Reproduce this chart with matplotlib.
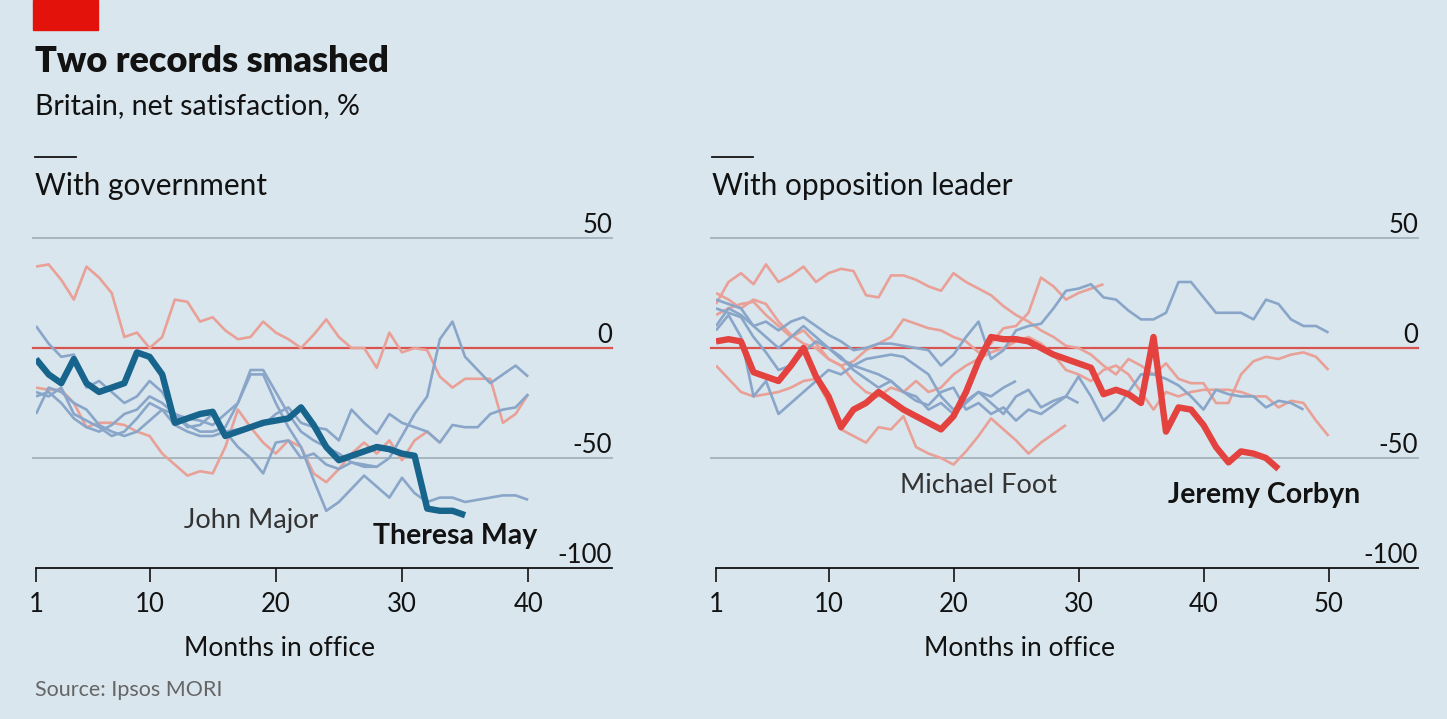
import matplotlib
matplotlib.use("Agg")
import matplotlib.pyplot as plt
import matplotlib.transforms as mtransforms
import numpy as np

plt.rcParams['font.family'] = ['Lato', 'DejaVu Sans']

# ---------------- data ----------------
# Left panel: net satisfaction with government, by months in office
may = [-5, -12, -16, -5, -16, -20, -18, -16, -2, -4, -12, -34, -32, -30, -29, -40, -38, -36,
       -34, -33, -32, -27, -35, -45, -51, -49, -47, -45, -46, -48, -49, -73, -74, -74, -76]
gov_lab_a = [37, 38, 31, 22, 37, 32, 25, 5, 7, 0, 5, 22, 21, 12, 14, 8, 4, 5, 12, 7, 4, 0, 6,
             13, 5, 0, 0, -9, 7, -2, 0, -1, -13, -18, -14, -14, -14, -34, -30, -21]
gov_lab_b = [-18, -19, -19, -25, -36, -34, -34, -35, -38, -40, -48, -53, -58, -56, -57, -45, -28,
             -36, -43, -48, -42, -45, -57, -61, -55, -48, -43, -48, -42, -51, -42, -38, -43]
gov_con_a = [10, 2, -4, -3, -18, -15, -20, -25, -22, -15, -20, -30, -32, -33, -35, -30, -25, -10,
             -10, -20, -30, -38, -42, -45, -48, -52, -54, -54, -50, -40, -30, -22, 4, 12, -4, -10,
             -16, -12, -8, -13]
john_major = [-30, -18, -20, -25, -28, -35, -38, -40, -38, -33, -28, -30, -35, -38, -38, -36, -25,
              -12, -12, -25, -36, -45, -60, -74, -70, -64, -58, -63, -68, -59, -66, -70, -68, -68,
              -70, -69, -68, -67, -67, -69]
gov_con_b = [-20, -22, -18, -30, -33, -36, -40, -38, -32, -25, -28, -35, -38, -40, -40, -38, -37,
             -36, -35, -30, -27, -34, -36, -37, -42, -28, -34, -39, -30, -34, -36, -38, -43, -35,
             -36, -36, -30, -28, -27, -21]
gov_con_c = [-22, -20, -25, -32, -36, -38, -35, -30, -28, -22, -25, -30, -36, -35, -30, -38, -45,
             -50, -57, -43, -42, -50, -48, -53, -55, -52, -53, -54]

# Right panel: net satisfaction with opposition leader
corbyn = [3, 4, 3, -11, -13, -15, -8, 0, -13, -22, -36, -28, -25, -20, -24, -28, -31, -34, -37,
          -31, -20, -6, 5, 4, 4, 3, 0, -3, -5, -7, -9, -21, -19, -21, -25, 5, -38, -27, -28, -35,
          -45, -52, -47, -48, -50, -55]
michael_foot = [-8, -14, -20, -22, -21, -20, -18, -15, -14, -25, -37, -40, -43, -36, -37, -31, -45,
                -48, -50, -53, -47, -40, -32, -37, -42, -48, -43, -39, -35]
opp_lab_a = [20, 30, 34, 29, 38, 30, 33, 37, 30, 34, 36, 35, 24, 23, 33, 33, 31, 28, 26, 34, 30,
             27, 24, 19, 15, 12, 8, 5, 1, 0, -3, -8, -12, -5, -8, -12, -7, -14, -16, -16, -25, -25,
             -12, -6, -4, -5, -3, -2, -4, -10]
opp_lab_b = [15, 18, 20, 21, 15, 10, 5, 8, 2, -5, -8, -15, -20, -22, -18, -20, -15, -20, -18, -12,
             -8, -5, -2, 0, 3, 5, 2, -3, -10, -12, -15, -10, -8, -12, -20, -28, -20, -22, -20, -19,
             -19, -19, -20, -22, -22, -27, -24, -25, -33, -40]
opp_lab_c = [25, 22, 18, 22, 20, 12, 6, 2, 0, -5, -8, -6, -1, 2, 5, 13, 11, 9, 8, 5, 3, -2, 2, 9,
             10, 16, 32, 28, 22, 25, 27, 29]
opp_con_a = [10, 18, 15, 10, 12, 8, 12, 14, 10, 6, 3, -1, 0, 2, 2, 1, 0, -1, -8, -3, 5, 12, -5, -1,
             8, 10, 11, 18, 26, 27, 29, 23, 22, 17, 13, 13, 16, 30, 30, 23, 16, 16, 16, 13, 22, 20,
             13, 10, 10, 7]
opp_con_b = [8, 15, 5, -22, -15, -30, -25, -20, -15, -10, -12, -8, -5, -4, -3, -4, -8, -12, -22,
             -28, -24, -20, -25, -30, -22, -19, -27, -24, -22, -13, -22, -33, -28, -20, -12, -12,
             -14, -17, -22, -28, -19, -21, -22, -22, -27, -24, -25, -28]
opp_con_c = [22, 20, 18, 10, 5, 0, 5, 10, 5, 0, -5, -8, -10, -12, -15, -20, -22, -28, -25, -30,
             -25, -20, -22, -18, -15]
opp_con_d = [18, 16, 14, 5, -2, -10, -8, -2, 3, 0, -4, -10, -14, -18, -15, -20, -24, -26, -20,
             -18, -28, -25, -30, -27, -33, -28, -30, -26, -22, -25]

y_ticks = [50, 0, -50, -100]
x_ticks_left = [1, 10, 20, 30, 40]
x_ticks_right = [1, 10, 20, 30, 40, 50]

# ---------------- style ----------------
BG = '#d9e6ee'
GRID = '#a7b5be'
ZERO = '#d9534f'
THIN_BLUE = '#89a6c9'
THIN_RED = '#e9a096'
MAY_BLUE = '#17648d'
CORBYN_RED = '#e3423f'
TXT = '#121212'

W, H = 1447, 719
fig = plt.figure(figsize=(W / 100, H / 100), dpi=100, facecolor=BG)


def px_axes(x0, x1, y0, y1):
    return fig.add_axes([x0 / W, 1 - y1 / H, (x1 - x0) / W, (y1 - y0) / H])


def style_axes(ax, xmax, xticks, grid_x0):
    ax.set_facecolor('none')
    ax.set_xlim(1, xmax)
    ax.set_ylim(-100, 50)
    for s in ['top', 'right', 'left']:
        ax.spines[s].set_visible(False)
    ax.spines['bottom'].set_color('#111111')
    ax.spines['bottom'].set_linewidth(1.3)
    ax.set_yticks([])
    trans = mtransforms.blended_transform_factory(ax.transAxes, ax.transData)
    for yv in y_ticks:
        if yv == -100:
            continue
        color, lw = (ZERO, 1.6) if yv == 0 else (GRID, 1.4)
        ax.plot([grid_x0, 1.0], [yv, yv], transform=trans, color=color, lw=lw,
                zorder=1, clip_on=False)
    for yv in y_ticks:
        ax.text(1.0, yv, str(yv), transform=trans, ha='right', va='bottom',
                fontsize=18.5, color=TXT)
    ax.set_xticks(xticks)
    ax.set_xticklabels([str(t) for t in xticks])
    ax.tick_params(axis='x', direction='out', length=10, width=1.2, colors='#111111',
                   labelsize=18.5, pad=7, labelcolor=TXT)
    ax.set_xlabel('Months in office', fontsize=19, color=TXT)


def draw(ax, series, color, lw, z):
    x = np.arange(1, len(series) + 1)
    ax.plot(x, series, color=color, lw=lw, zorder=z, solid_joinstyle='round',
            solid_capstyle='butt')


# ---------------- left panel ----------------
axL = px_axes(36, 612, 238, 568)
style_axes(axL, 1 + (612 - 36) / 12.62, x_ticks_left, -3 / 576)
for s in [gov_lab_a, gov_lab_b]:
    draw(axL, s, THIN_RED, 1.9, 2)
for s in [gov_con_a, john_major, gov_con_b, gov_con_c]:
    draw(axL, s, THIN_BLUE, 1.9, 3)
draw(axL, may, MAY_BLUE, 4.6, 5)
axL.text(12.7, -78.5, 'John Major', fontsize=19.5, color='#333333', ha='left', va='center')
axL.text(27.7, -85.5, 'Theresa May', fontsize=20.5, color=TXT, fontweight='bold',
         ha='left', va='center')
axL.xaxis.set_label_coords((280 - 36) / 576, -0.205)

# ---------------- right panel ----------------
axR = px_axes(716, 1418, 238, 568)
style_axes(axR, 1 + (1418 - 716) / 12.5, x_ticks_right, -5 / 702)
for s in [opp_lab_a, opp_lab_b, opp_lab_c, michael_foot]:
    draw(axR, s, THIN_RED, 1.9, 2)
for s in [opp_con_a, opp_con_b, opp_con_c, opp_con_d]:
    draw(axR, s, THIN_BLUE, 1.9, 3)
draw(axR, corbyn, CORBYN_RED, 4.6, 5)
axR.text(15.7, -62.3, 'Michael Foot', fontsize=19.5, color='#333333', ha='left', va='center')
axR.text(37.2, -66.8, 'Jeremy Corbyn', fontsize=20.5, color=TXT, fontweight='bold',
         ha='left', va='center')
axR.xaxis.set_label_coords((1020 - 716) / 702, -0.205)

# ---------------- header / footer ----------------
fig.patches.append(plt.Rectangle((33 / W, 1 - 30 / H), 65 / W, 30 / H, transform=fig.transFigure,
                                 color='#e3120b', zorder=10))
fig.text(35 / W, 1 - 62 / H, 'Two records smashed', fontsize=26, fontweight='heavy', color=TXT,
         ha='left', va='center')
fig.text(35 / W, 1 - 106 / H, 'Britain, net satisfaction, %', fontsize=20.5, color=TXT,
         ha='left', va='center')
for x0, label in [(35, 'With government'), (712, 'With opposition leader')]:
    fig.add_artist(plt.Line2D([x0 / W, (x0 + 41) / W], [1 - 157 / H, 1 - 157 / H],
                              transform=fig.transFigure, color=TXT, lw=1.3))
    fig.text(x0 / W, 1 - 186 / H, label, fontsize=21.5, color=TXT, ha='left', va='center')
fig.text(35 / W, 1 - 690 / H, 'Source: Ipsos MORI', fontsize=15.5, color='#666666',
         ha='left', va='center')

fig.savefig('out.png', dpi=100, facecolor=BG)
